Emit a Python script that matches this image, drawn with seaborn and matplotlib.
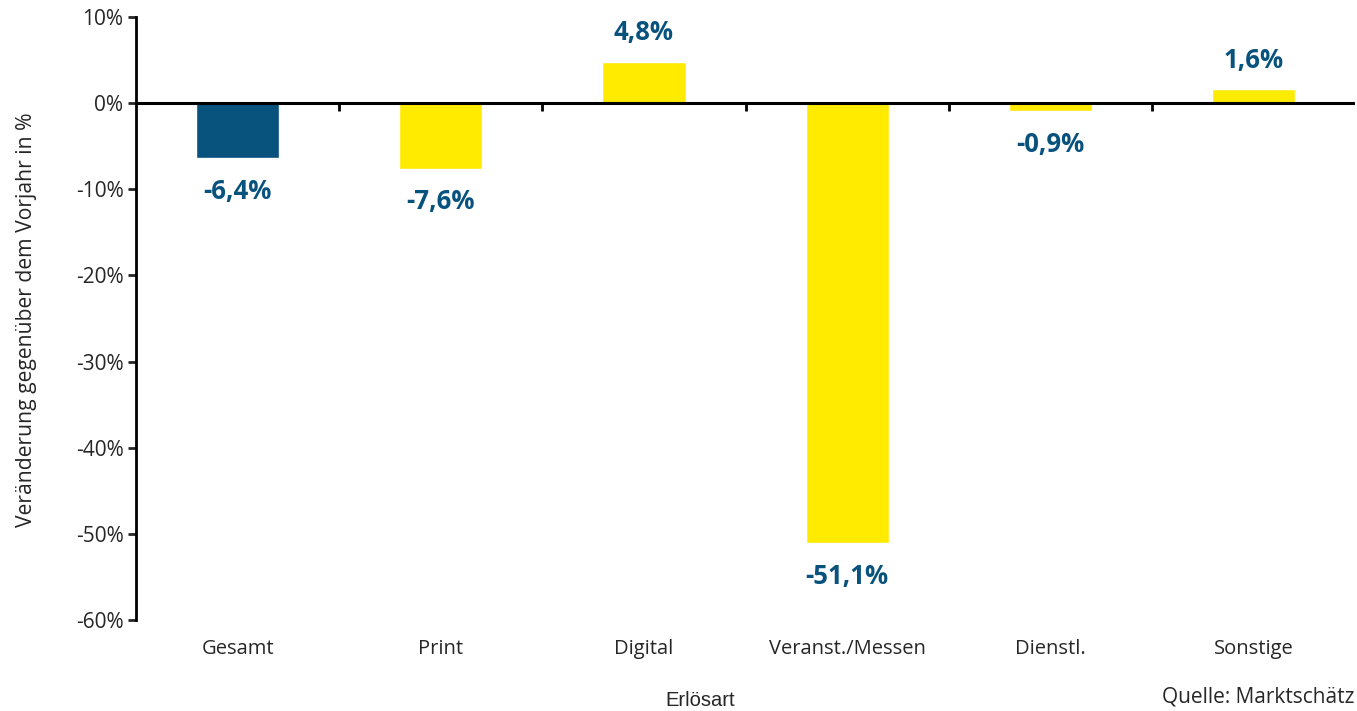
import matplotlib
matplotlib.use("Agg")
import matplotlib.pyplot as plt
from matplotlib.ticker import FuncFormatter
import seaborn as sns
import pandas as pd

# --- data ---
categories = ['Gesamt', 'Print', 'Digital', 'Veranst./Messen', 'Dienstl.', 'Sonstige']
changes = [-6.4, -7.6, 4.8, -51.1, -0.9, 1.6]
value_labels = ['-6,4%', '-7,6%', '4,8%', '-51,1%', '-0,9%', '1,6%']
y_ticks = [10, 0, -10, -20, -30, -40, -50, -60]

blue = '#08527E'
yellow = '#FFEB00'
bar_colors = [blue] + [yellow] * 5

df = pd.DataFrame({'Erlösart': categories, 'Veraenderung': changes})

sns.set_style('white')
plt.rcParams['font.family'] = ['Open Sans', 'DejaVu Sans']

fig = plt.figure(figsize=(13.57, 7.11), dpi=100)
ax = fig.add_axes([0.1002, 0.128, 0.8985, 0.848])

sns.barplot(data=df, x='Erlösart', y='Veraenderung', hue='Erlösart',
            palette=bar_colors, legend=False, width=0.41, saturation=1, ax=ax)

ax.set_ylim(-60, 10)
ax.set_xlim(-0.5, len(categories) - 0.5)
ax.set_yticks(y_ticks)
ax.yaxis.set_major_formatter(FuncFormatter(lambda v, p: f'{v:.0f}%'))
ax.tick_params(axis='y', direction='out', length=6, width=2, labelsize=15,
               left=True, pad=3)
ax.tick_params(axis='x', length=0, labelsize=14.5, pad=14)

for s in ['top', 'right', 'bottom']:
    ax.spines[s].set_visible(False)
ax.spines['left'].set_linewidth(2)
ax.spines['left'].set_color('black')

# zero line with tick marks between categories
ax.axhline(0, color='black', lw=2.2, zorder=3)
zero_frac = (0 - (-60)) / 70
sec = ax.secondary_xaxis(zero_frac)
sec.xaxis.set_ticks_position('bottom')
sec.set_xticks([i + 0.5 for i in range(len(categories) - 1)])
sec.set_xticklabels([])
sec.tick_params(direction='out', length=6, width=2, color='black')
for s in sec.spines.values():
    s.set_visible(False)

# value labels
for i, (v, lab) in enumerate(zip(changes, value_labels)):
    off = 21 if v > 0 else -24
    ax.annotate(lab, (i, v), xytext=(0, off), textcoords='offset points',
                ha='center', va='center', fontsize=18.5, fontweight='bold',
                color=blue)

ax.set_xlabel('')
ax.set_ylabel('')
fig.text(27 / 1357, 1 - 320 / 711, 'Veränderung gegenüber dem Vorjahr in %',
         rotation=90, ha='center', va='center', fontsize=15.2)

fig.text(700 / 1357, 1 - 701 / 711, 'Erlösart', ha='center', va='center',
         fontsize=14.5, family='Liberation Sans')
fig.text(1355 / 1357, 1 - 697 / 711, 'Quelle: Marktschätz', ha='right',
         va='center', fontsize=15)

fig.savefig('out.png', dpi=100)
